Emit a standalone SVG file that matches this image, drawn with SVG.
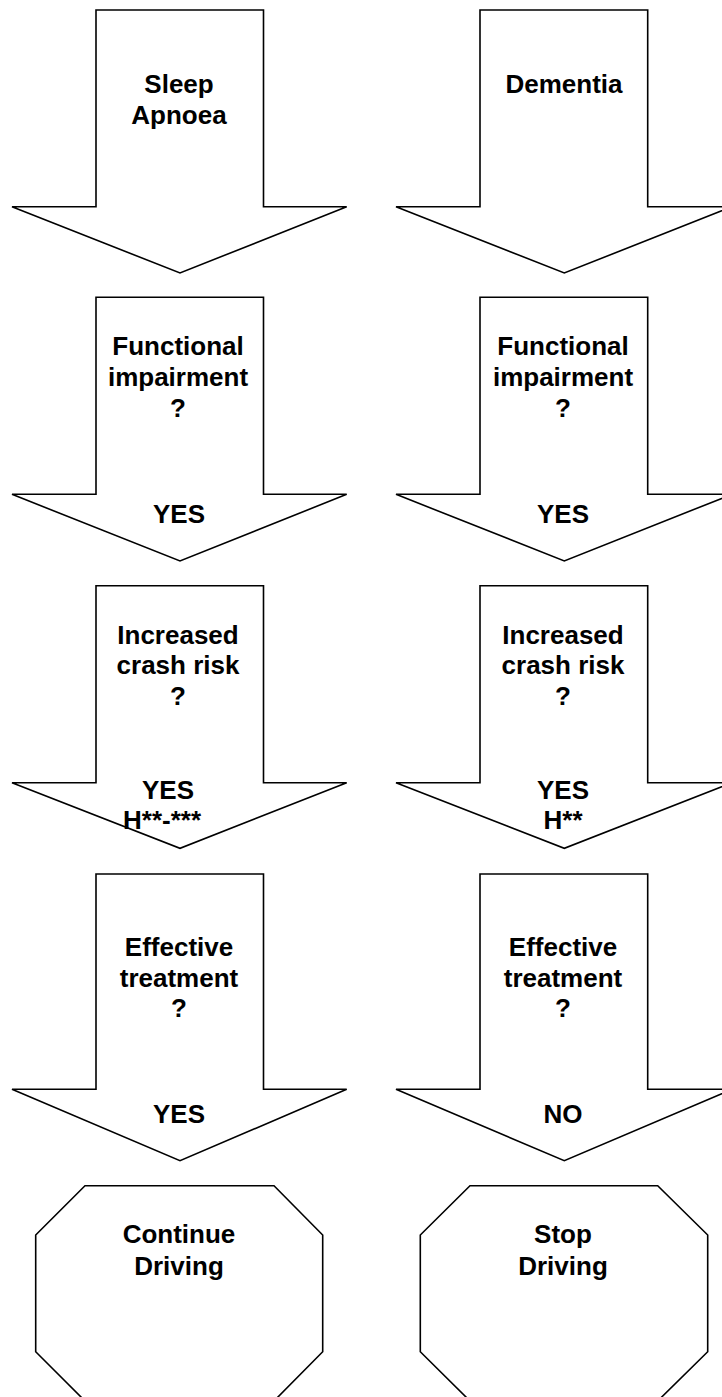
<svg xmlns="http://www.w3.org/2000/svg" width="722" height="1397" viewBox="0 0 722 1397">
<style>
.shape{fill:#fff;stroke:#000;stroke-width:1.6;stroke-linejoin:miter}
.t{font-family:"Liberation Sans",Arial,sans-serif;font-weight:bold;font-size:26px;fill:#000;text-anchor:middle}
</style>
<rect width="722" height="1397" fill="#fff"/>
<g id="connectors"/>
<!-- Left column -->
<g id="sleep-apnoea">
<polygon class="shape" points="96,10 263.5,10 263.5,206.7 346.7,206.7 180,273 12,206.7 96,206.7"/>
<text class="t" x="179" y="93">Sleep</text>
<text class="t" x="179" y="124">Apnoea</text>
</g>
<g id="left-functional">
<polygon class="shape" points="96,297.3 263.5,297.3 263.5,494.3 346.7,494.3 180,561 12,494.3 96,494.3"/>
<text class="t" x="178" y="355">Functional</text>
<text class="t" x="178" y="386">impairment</text>
<text class="t" x="178" y="417">?</text>
<text class="t" x="179" y="523">YES</text>
</g>
<g id="left-crash">
<polygon class="shape" points="96,585.7 263.5,585.7 263.5,782.7 346.7,782.7 180,848.3 12,782.7 96,782.7"/>
<text class="t" x="178" y="644">Increased</text>
<text class="t" x="178" y="674">crash risk</text>
<text class="t" x="178" y="705">?</text>
<text class="t" x="168" y="799">YES</text>
<text class="t" x="162" y="829">H**-***</text>
</g>
<g id="left-treatment">
<polygon class="shape" points="96,874 263.5,874 263.5,1089.3 346.7,1089.3 180,1160.7 12,1089.3 96,1089.3"/>
<text class="t" x="179" y="956">Effective</text>
<text class="t" x="179" y="987">treatment</text>
<text class="t" x="179" y="1017">?</text>
<text class="t" x="179" y="1123">YES</text>
</g>
<g id="continue-driving">
<polygon class="shape" points="85,1185.7 274,1185.7 322.7,1235 322.7,1351.7 274,1401 85,1401 35.7,1351.7 35.7,1235"/>
<text class="t" x="179" y="1243">Continue</text>
<text class="t" x="179" y="1275">Driving</text>
</g>
<!-- Right column -->
<g id="dementia">
<polygon class="shape" points="480,10 647.7,10 647.7,206.7 732,206.7 564.3,273 396,206.7 480,206.7"/>
<text class="t" x="564" y="93">Dementia</text>
</g>
<g id="right-functional">
<polygon class="shape" points="480,297.3 647.7,297.3 647.7,494.3 732,494.3 564.3,561 396,494.3 480,494.3"/>
<text class="t" x="563" y="355">Functional</text>
<text class="t" x="563" y="386">impairment</text>
<text class="t" x="563" y="417">?</text>
<text class="t" x="563" y="523">YES</text>
</g>
<g id="right-crash">
<polygon class="shape" points="480,585.7 647.7,585.7 647.7,782.7 732,782.7 564.3,848.3 396,782.7 480,782.7"/>
<text class="t" x="563" y="644">Increased</text>
<text class="t" x="563" y="674">crash risk</text>
<text class="t" x="563" y="705">?</text>
<text class="t" x="563" y="799">YES</text>
<text class="t" x="563" y="829">H**</text>
</g>
<g id="right-treatment">
<polygon class="shape" points="480,874 647.7,874 647.7,1089.3 732,1089.3 564.3,1160.7 396,1089.3 480,1089.3"/>
<text class="t" x="563" y="956">Effective</text>
<text class="t" x="563" y="987">treatment</text>
<text class="t" x="563" y="1017">?</text>
<text class="t" x="563" y="1123">NO</text>
</g>
<g id="stop-driving">
<polygon class="shape" points="470,1185.7 657.7,1185.7 707.7,1235 707.7,1351.7 657.7,1401 470,1401 420.3,1351.7 420.3,1235"/>
<text class="t" x="563" y="1243">Stop</text>
<text class="t" x="563" y="1275">Driving</text>
</g>
</svg>
